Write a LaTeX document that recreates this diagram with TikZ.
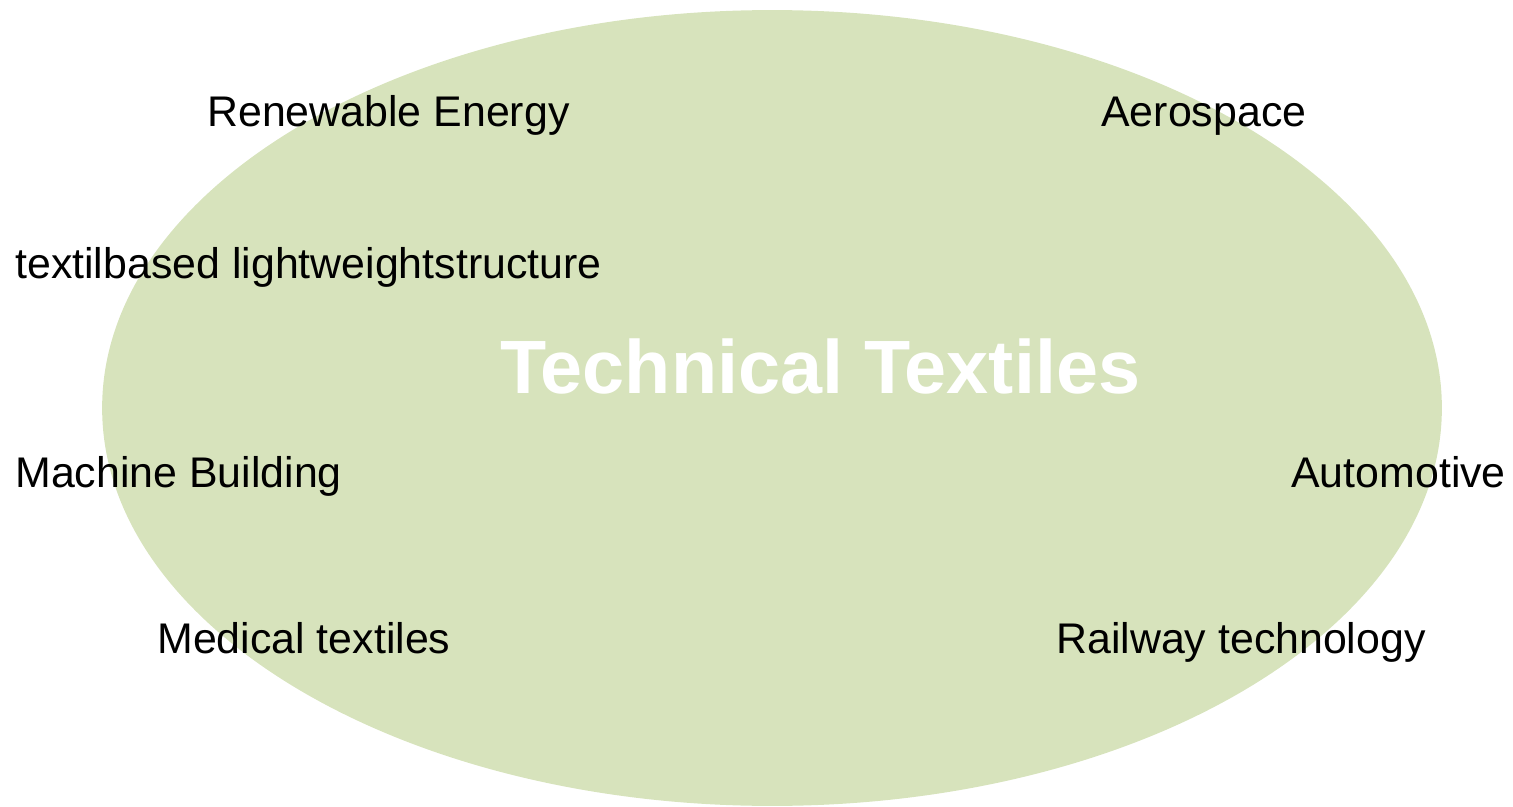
\documentclass[tikz,border=0pt]{standalone}
\usepackage{fontspec}
\setmainfont{Liberation Sans}
\usepackage{tikz}
\usetikzlibrary{shapes.geometric}
\definecolor{fieldgreen}{HTML}{D7E3BC}
\tikzset{
  field/.style = {ellipse, fill=fieldgreen, draw=none, inner sep=0pt,
    minimum width=26.8cm, minimum height=15.92cm},
  area/.style = {anchor=base west, inner sep=0pt, font=\fontsize{24.4}{28}\selectfont},
  title/.style = {anchor=base west, inner sep=0pt, text=white,
    font=\bfseries\fontsize{43}{48}\selectfont}
}

\begin{document}
\begin{tikzpicture}[x=0.02cm, y=-0.02cm]
\useasboundingbox (0,0) rectangle (1513,807);
\node [field] (field) at (772,408) {};
\node [title] (tt) at (500,393) {Technical Textiles};
\node [area] (renew) at (207,127) {Renewable Energy};
\node [area] (aero) at (1101,127) {Aerospace};
\node [area] (light) at (15,278) {textilbased lightweightstructure};
\node [area] (machine) at (15,487) {Machine Building};
\node [area] (auto) at (1291,487) {Automotive};
\node [area] (medical) at (157,653) {Medical textiles};
\node [area] (rail) at (1056,653) {Railway technology};
\end{tikzpicture}
\end{document}
